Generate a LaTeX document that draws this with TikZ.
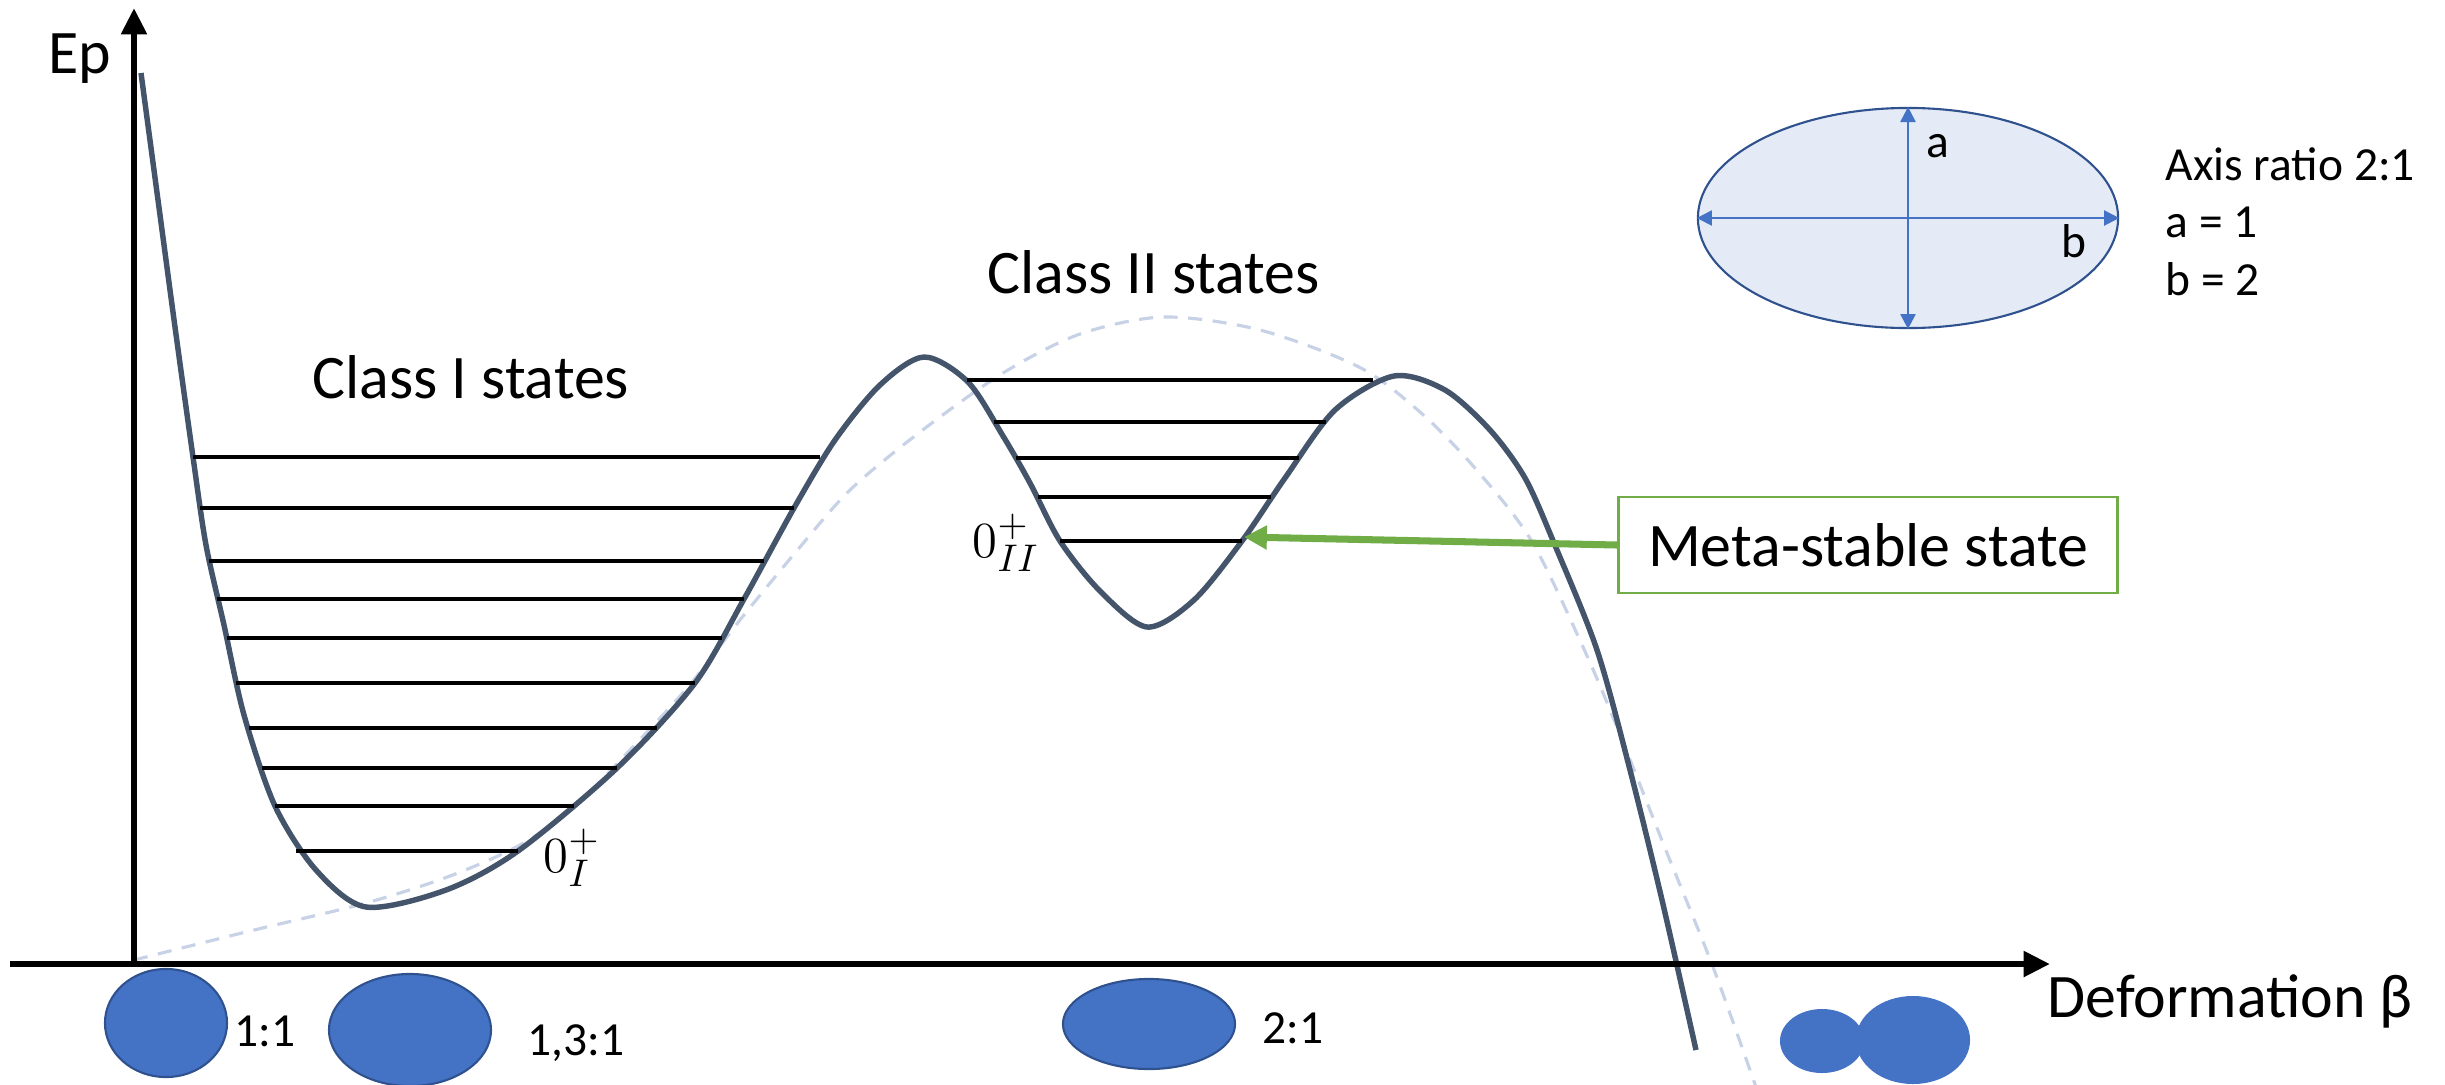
\documentclass[tikz,border=0pt]{standalone}
\usepackage{fontspec}
\setmainfont{Carlito}
\usetikzlibrary{arrows.meta,shapes.geometric}
\definecolor{bleu}{HTML}{4472C4}
\definecolor{bleufonce}{HTML}{2F528F}
\definecolor{bleupale}{HTML}{E4EBF6}
\definecolor{ardoise}{HTML}{44546A}
\definecolor{tirets}{HTML}{C8D2E6}
\definecolor{vert}{HTML}{70AD47}
\begin{document}
\begin{tikzpicture}[x=0.01cm,y=-0.01cm,
  axe/.style={line width=1.8pt,-{Triangle[length=7.5pt,width=7pt]}},
  niveau/.style={line width=1.35pt},
  pot/.style={ardoise,line width=1.55pt},
  goutte/.style={tirets,line width=0.9pt,dash pattern=on 4pt off 3pt},
  gros/.style={font=\fontsize{17.6}{21}\selectfont,anchor=base west,inner sep=0pt},
  petit/.style={font=\fontsize{13.5}{16}\selectfont,anchor=base west,inner sep=0pt},
  etat/.style={font=\fontsize{15}{18}\selectfont,anchor=base west,inner sep=0pt},
  noyau/.style={ellipse,draw=bleufonce,fill=bleu,line width=0.6pt,inner sep=0pt},
  goutte2/.style={ellipse,fill=bleu,inner sep=0pt},
  fleche/.style={bleu,line width=0.6pt,{Triangle[length=4.3pt,width=4.3pt]}-{Triangle[length=4.3pt,width=4.3pt]}}]
  \useasboundingbox (0,0) rectangle (2445,1084);
  \draw[goutte] plot[smooth] coordinates {(134,960) (250,931) (366,903) (450,876) (520,845) (574,807)
    (630,750) (688,687) (740,620) (795,553) (850,490) (920,432) (1003,373) (1080,334) (1164,317)
    (1260,330) (1359,367) (1420,412) (1474,467) (1531,540) (1583,647) (1617,727) (1665,848)
    (1713,967) (1757,1090)};
  \draw[pot] plot[smooth] coordinates {(141,73) (158,200) (175,327) (193,457) (206,545) (224,625)
    (244,715) (275,806) (316,870) (366,907) (446,890) (518,851) (617,768) (695,683) (744,599)
    (794,508) (835,440) (880,385) (924,357) (968,382) (1003,436) (1030,483) (1060,541) (1100,591)
    (1147,627) (1194,600) (1242,541) (1285,478) (1335,410) (1394,376) (1445,390) (1490,430)
    (1525,478) (1554,543) (1597,650) (1630,770) (1662,900) (1696,1050)};
  \foreach \y/\a/\b in {457/193/820, 508/200/794, 561/209/764, 599/217/744, 638/227/722,
                        683/236/695, 728/249/657, 768/262/617, 806/275/574, 851/296/518,
                        380/967/1373, 422/994/1326, 458/1016/1299, 497/1038/1271, 541/1060/1242}
    \draw[niveau] (\a,\y) -- (\b,\y);
  \draw[axe] (10,964) -- (2050,964);
  \draw[axe] (134,964) -- (134,8);
  \node[gros] (ep) at (48,73) {Ep};
  \node[gros] (beta) at (2047,1017) {Deformation β};
  \node[gros] (classe1) at (312,398) {Class I states};
  \node[gros] (classe2) at (987,293) {Class II states};
  \node[etat] (zero1) at (543,872) {$0_{I}^{+}$};
  \node[etat] (zero2) at (972,557) {$0_{II}^{+}$};
  \node[draw=vert,line width=0.75pt,minimum width=4.99cm,minimum height=0.96cm,inner sep=0pt,
        font=\fontsize{17.6}{21}\selectfont] (meta) at (1868,545) {Meta-stable state};
  \coordinate (ms) at (1244,537);
  \draw[vert,line width=2pt,-{Triangle[length=6.5pt,width=6.5pt]}] (meta.west) -- (ms);
  \node[ellipse,draw=bleufonce,fill=bleupale,line width=0.6pt,minimum width=4.2cm,
        minimum height=2.2cm] (forme) at (1908,218) {};
  \draw[fleche] (forme.north) -- (forme.south);
  \draw[fleche] (forme.west) -- (forme.east);
  \node[petit] (a) at (1926,157) {a};
  \node[petit] (b) at (2061,257) {b};
  \foreach \y/\n/\t in {180/l1/Axis ratio 2:1, 237/l2/a = 1, 295/l3/b = 2}
    \node[petit] (\n) at (2165,\y) {\t};
  \node[noyau,minimum width=1.22cm,minimum height=1.08cm] (n1) at (166,1023) {};
  \node[petit] (r1) at (234,1046) {1:1};
  \node[noyau,minimum width=1.62cm,minimum height=1.12cm] (n2) at (410,1030) {};
  \node[petit] (r2) at (527,1055) {1,3:1};
  \node[noyau,minimum width=1.72cm,minimum height=0.90cm] (n3) at (1149,1024) {};
  \node[petit] (r3) at (1262,1043) {2:1};
  \node[goutte2,minimum width=0.84cm,minimum height=0.64cm] (f1) at (1822,1041) {};
  \node[goutte2,minimum width=1.14cm,minimum height=0.88cm] (f2) at (1913,1040) {};
\end{tikzpicture}
\end{document}
